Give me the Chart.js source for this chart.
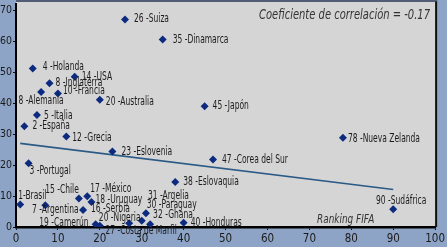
<!DOCTYPE html>
<html>
<head>
<meta charset="utf-8">
<script src="https://cdn.jsdelivr.net/npm/chart.js@4"></script>
<style>
  html, body { margin: 0; padding: 0; background: #8ea4c6; }
  #wrap { width: 447px; height: 247px; }
</style>
</head>
<body>
<div id="wrap"><canvas id="c" width="447" height="247"></canvas></div>
<script>
// ---- Data ----
const countryLabels = [
  "26 -Suiza", "35 -Dinamarca", "4 -Holanda", "14 -USA", "8 -Inglaterra",
  "10 -Francia", "8 -Alemania", "20 -Australia", "45 -Japón", "5 -Italia",
  "2 -España", "12 -Grecia", "23 -Eslovenia", "3 -Portugal", "47 -Corea del Sur",
  "38 -Eslovaquia", "78 -Nueva Zelanda", "1-Brasil", "7 -Argentina", "15 -Chile",
  "17 -México", "18 -Uruguay", "16 -Serbia", "19 -Camerún", "20 -Nigeria",
  "27 -Costa de Marfil", "31 -Argelia", "30 -Paraguay", "32 -Ghana", "40 -Honduras",
  "90 -Sudáfrica"
];
const fifaRanking = [
  26, 35, 4, 14, 8,
  10, 6, 20, 45, 5,
  2, 12, 23, 3, 47,
  38, 78, 1, 7, 15,
  17, 18, 16, 19, 20,
  27, 31, 30, 32, 40,
  90
];
const yValues = [
  67.0, 60.5, 51.2, 48.5, 46.4,
  43.1, 43.6, 41.1, 39.0, 36.2,
  32.5, 29.2, 24.4, 20.6, 21.8,
  14.5, 28.8, 7.3, 7.0, 9.2,
  9.9, 8.1, 5.45, 0.9, 0.4,
  1.2, 4.4, 2.0, 0.9, 1.4,
  5.7
];
const trendX = [1, 90];
const trendY = [27.0, 12.1];
const xTicks = [0, 10, 20, 30, 40, 50, 60, 70, 80, 90, 100];
const yTicks = [0, 10, 20, 30, 40, 50, 60, 70];
const correlationText = "Coeficiente de correlación = -0.17";
const xAxisTitle = "Ranking FIFA";

// ---- Label placement (style: dx, dy, align) ----
const labelPlacement = [
  [9, 0, "left"], [10, 0, "left"], [10, -1, "left"], [7, 0, "left"], [6, 0, "left"],
  [5, -2, "left"], [0, 9, "center"], [6, 2, "left"], [8, 0, "left"], [7, 1, "left"],
  [8, 0, "left"], [6, 1, "left"], [9, 1, "left"], [1, 8, "left"], [9, 1, "left"],
  [8, 0, "left"], [5, 1, "left"], [-2, -8, "left"], [10, 5, "center"], [0, -8, "right"],
  [3, -7, "left"], [4, -2, "left"], [8, -1, "left"], [-7, -1, "right"], [-1, -8, "left"],
  [12, 8, "center"], [2, -17, "left"], [5, -16, "left"], [3, -9, "left"], [7, 0, "left"],
  [8, -8, "center"]
];

const FONT = "'Liberation Sans Narrow', 'DejaVu Sans Condensed', 'Roboto', sans-serif";

const points = fifaRanking.map((x, i) => ({ x: x, y: yValues[i] }));
const trend = trendX.map((x, i) => ({ x: x, y: trendY[i] }));

function drawCondensed(ctx, text, x, y, align, sx) {
  ctx.save();
  ctx.translate(x, y);
  ctx.scale(sx, 1);
  ctx.textAlign = align;
  ctx.fillText(text, 0, 0);
  ctx.restore();
}

const framePlugin = {
  id: "frame",
  beforeDraw(chart) {
    const { ctx, chartArea: a, width, height } = chart;
    ctx.save();
    ctx.fillStyle = "#8ea4c6";
    ctx.fillRect(0, 0, width, height);
    ctx.fillStyle = "#d5d5d5";
    ctx.fillRect(a.left, 2, a.right - a.left, a.bottom - 2);
    ctx.restore();
  },
  afterDraw(chart) {
    const { ctx, chartArea: a } = chart;
    ctx.save();
    ctx.strokeStyle = "#111";
    ctx.lineWidth = 2;
    ctx.beginPath();
    ctx.moveTo(a.right + 1, 1);
    ctx.lineTo(a.right + 1, a.bottom);
    ctx.stroke();
    ctx.strokeStyle = "#3c4658";
    ctx.lineWidth = 1.5;
    ctx.beginPath();
    ctx.moveTo(a.left, 1);
    ctx.lineTo(a.right + 2, 1);
    ctx.stroke();
    ctx.restore();
  }
};

const labelPlugin = {
  id: "pointLabels",
  afterDatasetsDraw(chart) {
    const { ctx } = chart;
    const meta = chart.getDatasetMeta(0);
    ctx.save();
    ctx.font = "11.5px " + FONT;
    ctx.fillStyle = "#1c1c1c";
    ctx.textBaseline = "middle";
    meta.data.forEach((el, i) => {
      const p = labelPlacement[i];
      drawCondensed(ctx, countryLabels[i], el.x + p[0], el.y + p[1], p[2], 0.73);
    });
    ctx.font = "italic 13.5px " + FONT;
    ctx.fillStyle = "#333";
    drawCondensed(ctx, correlationText, 430, 15, "right", 0.82);
    ctx.font = "italic 11.5px " + FONT;
    drawCondensed(ctx, xAxisTitle, 317, 220, "left", 0.86);
    ctx.restore();
  }
};

new Chart(document.getElementById("c"), {
  type: "scatter",
  data: {
    datasets: [
      {
        data: points,
        pointStyle: "rectRot",
        pointRadius: 4,
        pointHoverRadius: 4,
        backgroundColor: "#0c2a7e",
        borderColor: "#0c2a7e",
        borderWidth: 0,
        order: 1
      },
      {
        type: "line",
        data: trend,
        borderColor: "#2a5a86",
        borderWidth: 1.6,
        pointRadius: 0,
        fill: false,
        showLine: true,
        order: 2
      }
    ]
  },
  options: {
    responsive: false,
    animation: false,
    devicePixelRatio: 1,
    layout: { padding: { top: 0, right: 7, left: 0, bottom: 0 } },
    plugins: { legend: { display: false }, tooltip: { enabled: false } },
    scales: {
      x: {
        type: "linear",
        min: 0,
        max: 100,
        afterBuildTicks(scale) { scale.ticks = xTicks.map(v => ({ value: v })); },
        afterFit(scale) { scale.height = 20; },
        grid: { drawOnChartArea: false, drawTicks: true, tickLength: 3, color: "#111", lineWidth: 1 },
        border: { display: true, color: "#000", width: 2.5 },
        ticks: { color: "#1a1a1a", font: { family: FONT, size: 11.5 }, padding: 2, maxRotation: 0, autoSkip: false }
      },
      y: {
        type: "linear",
        min: 0,
        max: 72,
        afterBuildTicks(scale) { scale.ticks = yTicks.map(v => ({ value: v })); },
        afterFit(scale) { scale.width = 16; scale.paddingTop = 0; },
        grid: { drawOnChartArea: false, drawTicks: true, tickLength: 3, color: "#111", lineWidth: 1 },
        border: { display: true, color: "#000", width: 2 },
        ticks: { color: "#1a1a1a", font: { family: FONT, size: 10.5 }, padding: 1, autoSkip: false }
      }
    }
  },
  plugins: [framePlugin, labelPlugin]
});
</script>
</body>
</html>
